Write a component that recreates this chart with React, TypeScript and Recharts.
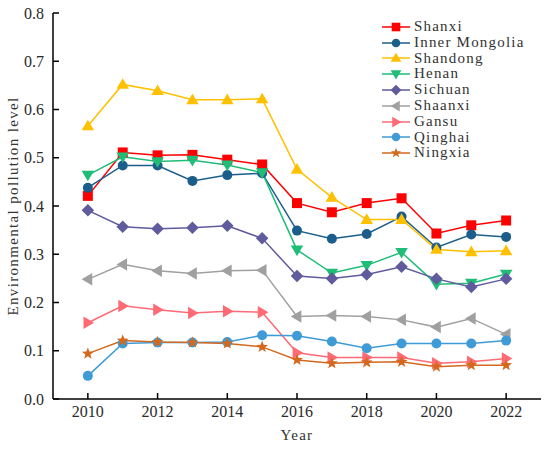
import { LineChart, Line, XAxis, YAxis, Legend } from 'recharts';

const years = [2010, 2011, 2012, 2013, 2014, 2015, 2016, 2017, 2018, 2019, 2020, 2021, 2022];

const shanxi = [0.421, 0.511, 0.505, 0.506, 0.496, 0.486, 0.406, 0.387, 0.406, 0.416, 0.343, 0.360, 0.370];
const innerMongolia = [0.438, 0.484, 0.484, 0.452, 0.464, 0.468, 0.349, 0.332, 0.342, 0.378, 0.314, 0.341, 0.336];
const shandong = [0.566, 0.652, 0.639, 0.620, 0.620, 0.622, 0.476, 0.418, 0.372, 0.372, 0.310, 0.305, 0.307];
const henan = [0.464, 0.502, 0.492, 0.495, 0.485, 0.469, 0.309, 0.261, 0.277, 0.304, 0.238, 0.240, 0.259];
const sichuan = [0.391, 0.357, 0.353, 0.355, 0.359, 0.333, 0.255, 0.250, 0.258, 0.274, 0.249, 0.232, 0.249];
const shaanxi = [0.248, 0.279, 0.266, 0.260, 0.266, 0.267, 0.171, 0.173, 0.171, 0.164, 0.149, 0.167, 0.134];
const gansu = [0.158, 0.193, 0.185, 0.178, 0.182, 0.180, 0.096, 0.086, 0.086, 0.086, 0.074, 0.077, 0.084];
const qinghai = [0.048, 0.115, 0.117, 0.117, 0.118, 0.132, 0.131, 0.119, 0.105, 0.115, 0.115, 0.115, 0.121];
const ningxia = [0.094, 0.121, 0.118, 0.117, 0.115, 0.108, 0.081, 0.074, 0.076, 0.077, 0.067, 0.070, 0.070];

const xTicks = [2010, 2012, 2014, 2016, 2018, 2020, 2022];
const yTicks = [0, 0.1, 0.2, 0.3, 0.4, 0.5, 0.6, 0.7, 0.8];

type Shape = 'square' | 'circle' | 'up' | 'down' | 'diamond' | 'left' | 'right' | 'star';

const series: { key: string; name: string; values: number[]; color: string; shape: Shape }[] = [
  { key: 'shanxi', name: 'Shanxi', values: shanxi, color: '#ff0000', shape: 'square' },
  { key: 'innerMongolia', name: 'Inner Mongolia', values: innerMongolia, color: '#1b5e8c', shape: 'circle' },
  { key: 'shandong', name: 'Shandong', values: shandong, color: '#ffc000', shape: 'up' },
  { key: 'henan', name: 'Henan', values: henan, color: '#1fbd77', shape: 'down' },
  { key: 'sichuan', name: 'Sichuan', values: sichuan, color: '#5f5b9c', shape: 'diamond' },
  { key: 'shaanxi', name: 'Shaanxi', values: shaanxi, color: '#a0a0a0', shape: 'left' },
  { key: 'gansu', name: 'Gansu', values: gansu, color: '#ff6b75', shape: 'right' },
  { key: 'qinghai', name: 'Qinghai', values: qinghai, color: '#3f9bd6', shape: 'circle' },
  { key: 'ningxia', name: 'Ningxia', values: ningxia, color: '#d2691e', shape: 'star' },
];

const data = years.map((year, i) => {
  const row: Record<string, number> = { year };
  series.forEach((s) => {
    row[s.key] = s.values[i];
  });
  return row;
});

const SERIF = 'Liberation Serif, Times New Roman, serif';

const Marker = ({ shape, cx, cy, color, r = 5 }: { shape: Shape; cx: number; cy: number; color: string; r?: number }) => {
  const t = r * 1.25;
  switch (shape) {
    case 'square':
      return <rect x={cx - r} y={cy - r} width={r * 2} height={r * 2} fill={color} />;
    case 'circle':
      return <circle cx={cx} cy={cy} r={r} fill={color} />;
    case 'up':
      return <polygon points={`${cx},${cy - t} ${cx + t},${cy + t * 0.7} ${cx - t},${cy + t * 0.7}`} fill={color} />;
    case 'down':
      return <polygon points={`${cx},${cy + t} ${cx + t},${cy - t * 0.7} ${cx - t},${cy - t * 0.7}`} fill={color} />;
    case 'left':
      return <polygon points={`${cx - t},${cy} ${cx + t * 0.7},${cy - t} ${cx + t * 0.7},${cy + t}`} fill={color} />;
    case 'right':
      return <polygon points={`${cx + t},${cy} ${cx - t * 0.7},${cy - t} ${cx - t * 0.7},${cy + t}`} fill={color} />;
    case 'diamond':
      return <polygon points={`${cx},${cy - t} ${cx + t},${cy} ${cx},${cy + t} ${cx - t},${cy}`} fill={color} />;
    case 'star': {
      const pts: string[] = [];
      for (let k = 0; k < 10; k++) {
        const rad = k % 2 === 0 ? t : t * 0.42;
        const a = -Math.PI / 2 + (k * Math.PI) / 5;
        pts.push(`${cx + rad * Math.cos(a)},${cy + rad * Math.sin(a)}`);
      }
      return <polygon points={pts.join(' ')} fill={color} />;
    }
  }
  return null;
};

const XTick = ({ x, y, payload }: any) => (
  <g>
    <line x1={x} y1={y} x2={x} y2={y - 6} stroke="#000" strokeWidth={1.5} />
    <text x={x} y={y + 17.5} textAnchor="middle" fontFamily={SERIF} fontSize={16} fill="#2a2a2a">
      {payload.value}
    </text>
  </g>
);

const YTick = ({ x, y, payload }: any) => (
  <g>
    <line x1={x} y1={y} x2={x + 6} y2={y} stroke="#000" strokeWidth={1.5} />
    <text x={x - 9} y={y + 5.5} textAnchor="end" fontFamily={SERIF} fontSize={16} fill="#2a2a2a">
      {Number(payload.value).toFixed(1)}
    </text>
  </g>
);

const LegendBox = () => (
  <div style={{ fontFamily: SERIF, fontSize: 15, letterSpacing: 1.2, color: '#333' }}>
    {series.map((s) => (
      <div key={s.key} style={{ display: 'flex', alignItems: 'center', height: 15.8 }}>
        <svg width={30} height={14} style={{ marginRight: 3 }}>
          <line x1={1} y1={7} x2={29} y2={7} stroke={s.color} strokeWidth={1.5} />
          <Marker shape={s.shape} cx={15} cy={7} color={s.color} r={4.3} />
        </svg>
        <span style={{ lineHeight: '15.8px' }}>{s.name}</span>
      </div>
    ))}
  </div>
);

export default function App() {
  return (
    <div style={{ position: 'absolute', left: 0, top: 0, width: 550, height: 449, background: '#fff' }}>
      <LineChart width={550} height={449} data={data} margin={{ top: 13, right: 9, bottom: 0, left: 0 }}>
        <XAxis
          dataKey="year"
          type="number"
          domain={[2009, 2023]}
          ticks={xTicks}
          tickSize={0}
          tickMargin={0}
          tickLine={false}
          tick={<XTick />}
          axisLine={{ stroke: '#000', strokeWidth: 1.5 }}
          height={50}
          label={({ viewBox }: any) => (
            <text
              x={viewBox.x + viewBox.width / 2}
              y={440}
              textAnchor="middle"
              fontFamily={SERIF}
              fontSize={15}
              letterSpacing={1.3}
              fill="#333"
            >
              Year
            </text>
          )}
        />
        <XAxis
          xAxisId="top"
          dataKey="year"
          type="number"
          orientation="top"
          domain={[2009, 2023]}
          tick={false}
          tickLine={false}
          height={0}
          axisLine={{ stroke: '#000', strokeWidth: 1.5 }}
        />
        <YAxis
          domain={[0, 0.8]}
          ticks={yTicks}
          tickSize={0}
          tickMargin={0}
          tickLine={false}
          tick={<YTick />}
          width={53}
          interval={0}
          axisLine={{ stroke: '#000', strokeWidth: 1.5 }}
          label={({ viewBox }: any) => {
            const cy = viewBox.y + viewBox.height / 2;
            return (
              <text
                x={18}
                y={cy}
                transform={`rotate(-90, 18, ${cy})`}
                textAnchor="middle"
                fontFamily={SERIF}
                fontSize={15}
                letterSpacing={1.35}
                fill="#333"
              >
                Environmental pollution level
              </text>
            );
          }}
        />
        <YAxis
          yAxisId="right"
          orientation="right"
          domain={[0, 0.8]}
          tick={false}
          tickLine={false}
          width={0}
          axisLine={{ stroke: '#000', strokeWidth: 1.5 }}
        />
        <Legend
          layout="vertical"
          align="center"
          verticalAlign="middle"
          content={<LegendBox />}
          wrapperStyle={{ left: 381, top: 19, width: 165 }}
        />
        {series.map((s) => (
          <Line
            key={s.key}
            dataKey={s.key}
            name={s.name}
            stroke={s.color}
            strokeWidth={1.5}
            isAnimationActive={false}
            dot={(p: any) => <Marker key={`${s.key}-${p.index}`} shape={s.shape} cx={p.cx} cy={p.cy} color={s.color} />}
            activeDot={false}
          />
        ))}
      </LineChart>
    </div>
  );
}
